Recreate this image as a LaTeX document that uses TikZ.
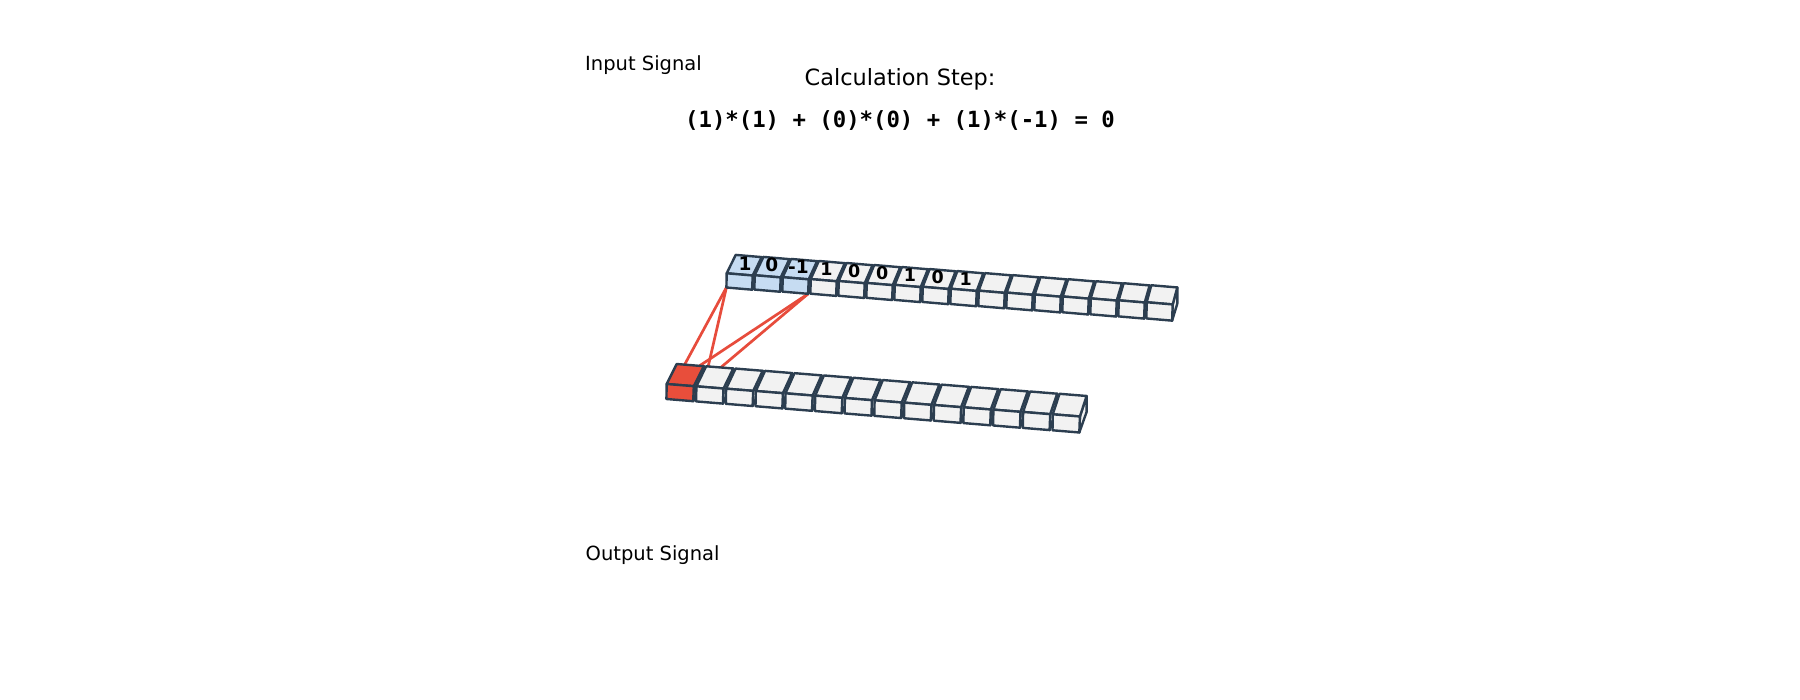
\documentclass[tikz,border=0pt]{standalone}
\usepackage{fontspec}
\setmainfont{DejaVu Sans}
\newfontfamily\monobold{DejaVu Sans Mono}[BoldFont={DejaVu Sans Mono Bold}]
\definecolor{edge}{HTML}{2C3E50}
\definecolor{cellgrey}{HTML}{F2F2F2}
\definecolor{cellblue}{HTML}{C6DCF2}
\definecolor{cellred}{HTML}{E84E3B}
\definecolor{link}{HTML}{E74C3C}
\tikzset{
  x=1pt,y=-1pt,
  face/.style={draw=edge,line width=2.4pt,line join=round},
  connector/.style={draw=link,line width=2.7pt,line cap=round},
  caption/.style={inner sep=0pt,anchor=base west,font=\fontsize{19.5}{22}\selectfont},
  title/.style={inner sep=0pt,anchor=base,font=\fontsize{22.4}{26}\selectfont},
  formula/.style={inner sep=0pt,anchor=base,font=\monobold\bfseries\fontsize{22.3}{26}\selectfont},
  digit/.style={inner sep=0pt,text=black,font=\bfseries\fontsize{#1}{20}\selectfont},
}
% #1 name, #2 last index, #3 x0, #4 y0, #5 dx, #6 dy, #7 h0, #8 dh, #9 depth x at start
% \oxEnd depth x at end, \oyStart and \oyEnd depth y at start and end
\newcommand{\rowcoords}[9]{%
  \foreach \i in {0,...,#2}{%
    \pgfmathsetmacro{\fx}{#3+#5*\i}%
    \pgfmathsetmacro{\fy}{#4+#6*\i}%
    \pgfmathsetmacro{\hh}{#7+#8*\i/#2}%
    \pgfmathsetmacro{\ox}{#9+(\oxEnd-#9)*\i/#2}%
    \pgfmathsetmacro{\oy}{\oyStart+(\oyEnd-\oyStart)*\i/#2}%
    \pgfmathsetmacro{\ww}{#5-\gapw}%
    \coordinate (#1-\i-ftl) at (\fx,\fy);
    \coordinate (#1-\i-ftr) at (\fx+\ww,\fy+2.2);
    \coordinate (#1-\i-fbl) at (\fx-0.3,\fy+\hh);
    \coordinate (#1-\i-fbr) at (\fx+\ww-0.6,\fy+\hh+2.2);
    \coordinate (#1-\i-btl) at (\fx+\ox,\fy+\oy);
    \coordinate (#1-\i-btr) at (\fx+\ww+\ox,\fy+2.2+\oy);
    \coordinate (#1-\i-bbr) at (\fx+\ww+\ox,\fy+2.2+\oy+\hh);
  }%
}
\newcommand{\onecube}[3]{%
  \path[face,fill=#3] (#1-#2-ftr) -- (#1-#2-btr) -- (#1-#2-bbr) -- (#1-#2-fbr) -- cycle;
  \path[face,fill=#3] (#1-#2-ftl) -- (#1-#2-btl) -- (#1-#2-btr) -- (#1-#2-ftr) -- cycle;
  \path[face,fill=#3] (#1-#2-ftl) -- (#1-#2-ftr) -- (#1-#2-fbr) -- (#1-#2-fbl) -- cycle;
}
\begin{document}
\begin{tikzpicture}
\useasboundingbox (0,0) rectangle (1800,700);
\def\gapw{2.0}\def\oxEnd{4.6}\def\oyStart{-18.4}\def\oyEnd{-17}
\rowcoords{in}{15}{726.7}{273.3}{28}{1.93}{14.2}{2}{9}
\def\gapw{2.6}\def\oxEnd{6.7}\def\oyStart{-20}\def\oyEnd{-20.5}
\rowcoords{out}{13}{666.7}{384}{29.7}{2.33}{15}{1}{10}
% free ends of the connectors (hidden under the output cube tops)
\coordinate (t1) at (683.6,366.5);
\coordinate (t2) at (707.7,368.5);
\coordinate (t3) at (697,367.5);
\coordinate (t4) at (719,369);
\draw[connector] (in-0-fbl) -- (t1);
\draw[connector] (in-0-fbl) -- (t2);
\draw[connector] (in-2-fbr) -- (t3);
\draw[connector] (in-2-fbr) -- (t4);
\foreach \i in {0,...,15}{%
  \ifnum\i<3 \onecube{in}{\i}{cellblue}\else \onecube{in}{\i}{cellgrey}\fi
}
\foreach \i in {0,...,13}{%
  \ifnum\i<1 \onecube{out}{\i}{cellred}\else \onecube{out}{\i}{cellgrey}\fi
}
\node[digit=18.5] (d0) at (745,263.3) {1};
\node[digit=18.5] (d1) at (771.7,265.2) {0};
\node[digit=18.5] (d2) at (798.5,267.2) {-1};
\node[digit=17.5] (d3) at (826.5,269) {1};
\node[digit=17.5] (d4) at (854.3,271) {0};
\node[digit=17.5] (d5) at (882.2,273) {0};
\node[digit=17.5] (d6) at (910,275) {1};
\node[digit=17.5] (d7) at (937.8,277) {0};
\node[digit=17.5] (d8) at (965.6,279) {1};
\node[caption] (inputlabel) at (585,71) {Input Signal};
\node[caption] (outputlabel) at (585.5,560.3) {Output Signal};
\node[title] (steptitle) at (900,85.5) {Calculation Step:};
\node[formula] (stepformula) at (900,127.3) {(1)*(1) + (0)*(0) + (1)*(-1) = 0};
\end{tikzpicture}
\end{document}
